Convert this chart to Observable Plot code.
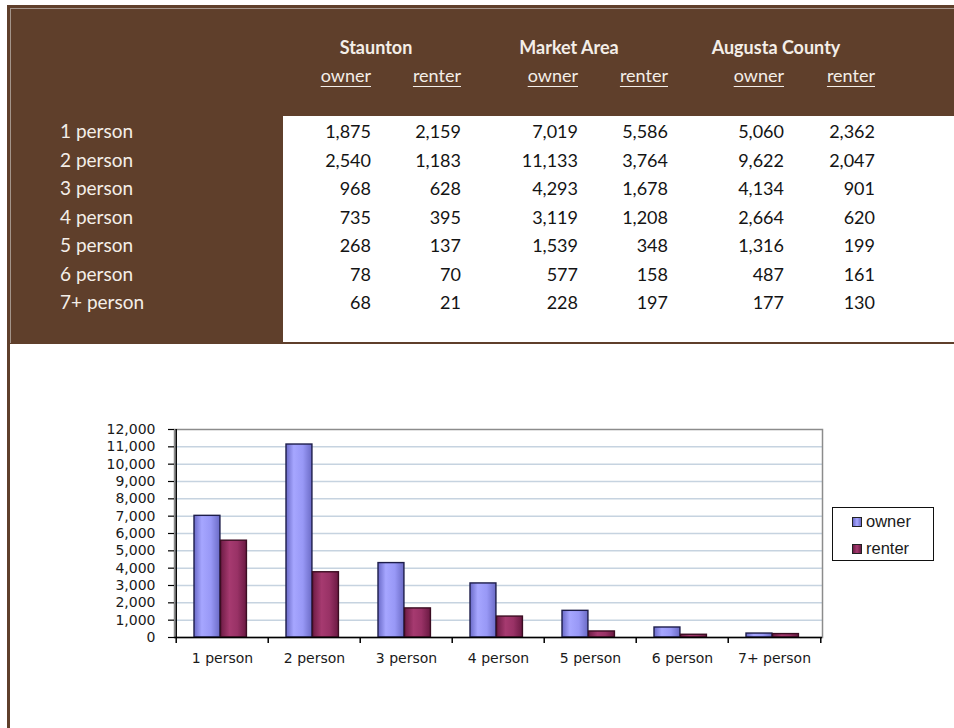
<!DOCTYPE html>
<html>
<head>
<meta charset="utf-8">
<script src="https://cdn.jsdelivr.net/npm/d3@7"></script>
<script src="https://cdn.jsdelivr.net/npm/@observablehq/plot@0.6"></script>
<style>
  html, body { margin: 0; padding: 0; background: #fff; }
  #page { position: relative; width: 954px; height: 728px; overflow: hidden; }
  .abs { position: absolute; }
  #panel { left: 7px; top: 5px; width: 960px; height: 339px; background: #5f3f2b; }
  #panelLine { left: 10px; top: 8px; width: 960px; height: 334px; border-top: 1px solid #a3948a; border-left: 1px solid #a3948a; }
  #stripe { left: 7px; top: 344px; width: 3px; height: 400px; background: #5f3f2b; }
  #cell { left: 283px; top: 116px; width: 700px; height: 226px; background: #fff; }
  .tbl { font-family: Lato, "Open Sans", sans-serif; font-size: 18px; line-height: 24px; white-space: nowrap; }
  .rowlab { font-size: 19px; }
  .light { color: #f4eee8; }
  .dark { color: #141414; }
  .head { font-weight: bold; }
  .sub { text-decoration: underline; text-underline-offset: 4px; text-decoration-thickness: 1px; }
  #legend { left: 832px; top: 507px; width: 100px; height: 52px; border: 1px solid #111; background: #fff;
            font-family: "Liberation Sans", Arial, sans-serif; font-size: 16.5px; color: #1a1a1a; }
  .sw { position: absolute; width: 8px; height: 8px; border: 1px solid #222; }
  .lt { position: absolute; line-height: 20px; }
</style>
</head>
<body>
<div id="page">
  <div id="panel" class="abs"></div>
  <div id="panelLine" class="abs"></div>
  <div id="cell" class="abs"></div>
  <div id="chart" class="abs" style="left:0;top:344px"></div>
  <div id="stripe" class="abs"></div>
  <div id="legend" class="abs"></div>
</div>
<script>
// Household size by tenure
const sizes = ["1 person", "2 person", "3 person", "4 person", "5 person", "6 person", "7+ person"];
const areas = ["Staunton", "Market Area", "Augusta County"];
const tenures = ["owner", "renter"];

const stauntonOwner  = [1875, 2540, 968, 735, 268, 78, 68];
const stauntonRenter = [2159, 1183, 628, 395, 137, 70, 21];
const marketOwner    = [7019, 11133, 4293, 3119, 1539, 577, 228];
const marketRenter   = [5586, 3764, 1678, 1208, 348, 158, 197];
const augustaOwner   = [5060, 9622, 4134, 2664, 1316, 487, 177];
const augustaRenter  = [2362, 2047, 901, 620, 199, 161, 130];

const yTicks = [0, 1000, 2000, 3000, 4000, 5000, 6000, 7000, 8000, 9000, 10000, 11000, 12000];

const columns = [stauntonOwner, stauntonRenter, marketOwner, marketRenter, augustaOwner, augustaRenter];
const fmt = d3.format(",");

// ---- table ----
const page = d3.select("#page");
const colRight = [371, 461, 578, 668, 784, 875];   // right edge of each number column
const groupCenter = [376, 569, 776];
const rowTop = 119, rowStep = 28.5;

areas.forEach((a, i) => {
  page.append("div").attr("class", "abs tbl light head")
    .style("left", (groupCenter[i] - 100) + "px").style("width", "200px")
    .style("text-align", "center").style("top", "35px").text(a);
});
columns.forEach((col, j) => {
  page.append("div").attr("class", "abs tbl light sub")
    .style("left", (colRight[j] - 100) + "px").style("width", "100px")
    .style("text-align", "right").style("top", "63px").text(tenures[j % 2]);
  col.forEach((v, i) => {
    page.append("div").attr("class", "abs tbl dark")
      .style("left", (colRight[j] - 100) + "px").style("width", "100px")
      .style("text-align", "right").style("top", (rowTop + i * rowStep) + "px").text(fmt(v));
  });
});
sizes.forEach((s, i) => {
  page.append("div").attr("class", "abs tbl light rowlab")
    .style("left", "60px").style("top", (rowTop + i * rowStep) + "px").text(s);
});

// ---- chart (Market Area) ----
const rows = sizes.map((s, i) => ({size: s, owner: marketOwner[i], renter: marketRenter[i]}));

const W = 954, H = 384, mL = 174, mR = 132, mT = 85, mB = 91;
const bw = (W - mL - mR) / sizes.length;
const axisFont = 14;

const chart = Plot.plot({
  width: W,
  height: H,
  marginLeft: mL,
  marginRight: mR,
  marginTop: mT,
  marginBottom: mB,
  style: {fontFamily: "'DejaVu Sans', Verdana, sans-serif", fontSize: "14px", color: "#1a1a1a", background: "transparent", overflow: "visible"},
  x: {domain: sizes, padding: 0, label: null},
  y: {domain: [0, 12000], label: null},
  marks: [
    Plot.gridY(yTicks.slice(1, -1), {stroke: "#c6d3e0", strokeOpacity: 1, strokeWidth: 1.5}),
    Plot.frame({stroke: "#8c8c8c", strokeWidth: 1.5}),
    Plot.barY(rows, {x: "size", y: "owner", fill: "url(#ownerFill)", stroke: "#1d1d4a", strokeWidth: 1.4,
                     insetLeft: 18, insetRight: bw - 18 - 26.5}),
    Plot.barY(rows, {x: "size", y: "renter", fill: "url(#renterFill)", stroke: "#3b0d22", strokeWidth: 1.4,
                     insetLeft: 18 + 26.5, insetRight: bw - 18 - 53}),
    Plot.ruleY([0], {stroke: "#000", strokeWidth: 1.5}),
    Plot.ruleX([sizes[0]], {dx: -bw / 2, stroke: "#000", strokeWidth: 1.5}),
    Plot.axisY({ticks: yTicks, tickSize: 6, tickPadding: 13, tickFormat: fmt, label: null, fontSize: axisFont, stroke: "#000", strokeWidth: 1.2}),
    Plot.axisX({tickSize: 0, tickPadding: 16, label: null, fontSize: axisFont}),
    Plot.axisX({tickSize: 6, tickFormat: () => "", dx: -bw / 2, label: null, stroke: "#000", strokeWidth: 1.5}),
    Plot.axisX([sizes[sizes.length - 1]], {tickSize: 6, tickFormat: () => "", dx: bw / 2, label: null, stroke: "#000", strokeWidth: 1.5})
  ]
});

// shaded fills for the columns
const defs = d3.select(chart).insert("defs", ":first-child");
function gradient(id, stops) {
  const g = defs.append("linearGradient").attr("id", id).attr("x1", 0).attr("x2", 1).attr("y1", 0).attr("y2", 0);
  stops.forEach(([o, c]) => g.append("stop").attr("offset", o).attr("stop-color", c));
}
gradient("ownerFill", [["0%", "#6a6ac8"], ["30%", "#a6a6ff"], ["65%", "#9898f6"], ["100%", "#6b6bc6"]]);
gradient("renterFill", [["0%", "#6e1c45"], ["35%", "#a63a70"], ["65%", "#993266"], ["100%", "#6a1942"]]);

document.getElementById("chart").appendChild(chart);

// ---- legend ----
const legend = d3.select("#legend");
const swatchFill = {
  owner: "linear-gradient(90deg, #6a6ac8, #a6a6ff, #6b6bc6)",
  renter: "linear-gradient(90deg, #6e1c45, #a63a70, #6a1942)"
};
tenures.forEach((t, i) => {
  legend.append("div").attr("class", "sw")
    .style("left", "19px").style("top", (9 + i * 27) + "px").style("background", swatchFill[t]);
  legend.append("div").attr("class", "lt")
    .style("left", "33px").style("top", (3 + i * 27) + "px").text(t);
});
</script>
</body>
</html>
